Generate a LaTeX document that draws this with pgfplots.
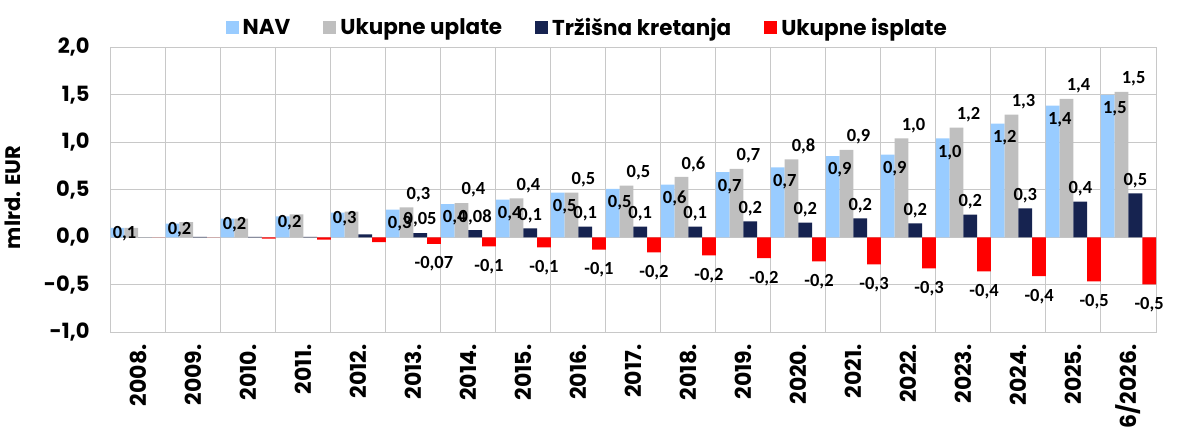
\documentclass[border=0pt]{standalone}
\usepackage{pgfplots}
\usepackage{pgfplotstable}
\pgfplotsset{compat=1.18}
\usepackage{fontspec}
\setmainfont{Poppins}
\newfontfamily\carl{Carlito}
\definecolor{navblue}{RGB}{153,204,255}
\definecolor{upgray}{RGB}{191,191,191}
\definecolor{trznavy}{RGB}{22,35,80}
\definecolor{isred}{RGB}{255,0,0}
\definecolor{gridgray}{RGB}{200,200,200}
\pgfplotstableread{
x nav navl gray grayl trz trzl isp ispl
0 0.100 0,1 0.100 {} 0.000 {} 0.000 {}
1 0.145 0,2 0.160 {} 0.005 {} 0.000 {}
2 0.197 0,2 0.197 {} 0.005 {} -0.014 {}
3 0.220 0,2 0.240 {} 0.005 {} -0.024 {}
4 0.260 0,3 0.270 {} 0.030 {} -0.050 {}
5 0.290 0,3 0.315 0,3 0.045 0,05 -0.070 -0,07
6 0.350 0,4 0.360 0,4 0.075 0,08 -0.095 -0,1
7 0.397 0,4 0.410 0,4 0.095 0,1 -0.105 -0,1
8 0.470 0,5 0.470 0,5 0.112 0,1 -0.130 -0,1
9 0.510 0,5 0.545 0,5 0.112 0,1 -0.160 -0,2
10 0.555 0,6 0.635 0,6 0.112 0,1 -0.190 -0,2
11 0.685 0,7 0.720 0,7 0.168 0,2 -0.220 -0,2
12 0.735 0,7 0.820 0,8 0.155 0,2 -0.253 -0,2
13 0.855 0,9 0.920 0,9 0.200 0,2 -0.285 -0,3
14 0.870 0,9 1.040 1,0 0.147 0,2 -0.326 -0,3
15 1.040 1,0 1.155 1,2 0.239 0,2 -0.358 -0,4
16 1.197 1,2 1.290 1,3 0.305 0,3 -0.410 -0,4
17 1.385 1,4 1.456 1,4 0.376 0,4 -0.463 -0,5
18 1.500 1,5 1.530 1,5 0.463 0,5 -0.495 -0,5
}\datatable
\begin{document}
\begin{tikzpicture}
\useasboundingbox (-110.7pt,-102.7pt) rectangle (1067.3pt,332.3pt);
\begin{axis}[
  at={(0pt,0pt)}, anchor=south west,
  scale only axis, width=1045.3pt, height=285pt,
  xmin=-0.5, xmax=18.5, ymin=-1, ymax=2,
  ytick={-1,-0.5,0,0.5,1,1.5,2},
  xtick={0,...,18},
  xticklabels={2008.,2009.,2010.,2011.,2012.,2013.,2014.,2015.,2016.,2017.,2018.,2019.,2020.,2021.,2022.,2023.,2024.,2025.,6/2026.},
  minor xtick={0.5,1.5,...,17.5},
  xminorgrids=true, xmajorgrids=false, ymajorgrids=true,
  grid style={draw=gridgray, line width=1pt},
  minor grid style={draw=gridgray, line width=1pt},
  axis line style={draw=gridgray, line width=1pt},
  major tick length=0pt, minor tick length=0pt,
  xticklabel style={rotate=90, anchor=east, inner sep=0pt, font=\bfseries\fontsize{22}{22}\selectfont},
  xticklabel shift=12pt,
  yticklabel style={anchor=east, inner sep=0pt, xshift=-21pt, font=\bfseries\fontsize{21}{21}\selectfont,
    /pgf/number format/use comma, /pgf/number format/fixed, /pgf/number format/fixed zerofill,
    /pgf/number format/precision=1, /pgf/number format/assume math mode=true},
  ylabel={mlrd. EUR},
  ylabel style={at={(axis description cs:-0.0935,0.473)}, anchor=center, inner sep=0pt,
    font=\bfseries\fontsize{21}{21}\selectfont},
  legend style={at={(axis description cs:0.455,1)}, anchor=center, yshift=19.8pt,
    legend columns=-1, draw=none, fill=none, inner sep=0pt, nodes={inner sep=0pt},
    font=\bfseries\fontsize{21.5}{21.5}\selectfont,
    /tikz/every even column/.append style={column sep=33pt}},
  legend image code/.code={\path[#1] (0pt,-6.5pt) rectangle (13pt,6.5pt); \path (17pt,0pt);},
]
\addplot[ybar, bar width=0.25, bar shift=-0.375, fill=navblue, draw=none] table[x=x, y=nav] {\datatable};
\addlegendentry{NAV}
\addplot[ybar, bar width=0.25, bar shift=-0.125, fill=upgray, draw=none] table[x=x, y=gray] {\datatable};
\addlegendentry{Ukupne uplate}
\addplot[ybar, bar width=0.25, bar shift=0.125, fill=trznavy, draw=none] table[x=x, y=trz] {\datatable};
\addlegendentry{Tržišna kretanja}
\addplot[ybar, bar width=0.25, bar shift=0.375, fill=isred, draw=none] table[x=x, y=isp] {\datatable};
\addlegendentry{Ukupne isplate}
% data labels drawn above all bars
\addplot[draw=none, mark=none, forget plot, nodes near coords, point meta=explicit symbolic,
  restrict x to domain=-1:4.5,
  every node near coord/.style={anchor=center, inner sep=0pt, xshift=7pt, yshift=-6pt, font=\carl\bfseries\fontsize{18.5}{18.5}\selectfont}]
  table[x expr=\thisrow{x}-0.375, y=nav, meta=navl] {\datatable};
\addplot[draw=none, mark=none, forget plot, nodes near coords, point meta=explicit symbolic,
  restrict x to domain=4.5:19,
  every node near coord/.style={anchor=center, inner sep=0pt, xshift=7pt, yshift=-14pt, font=\carl\bfseries\fontsize{18.5}{18.5}\selectfont}]
  table[x expr=\thisrow{x}-0.375, y=nav, meta=navl] {\datatable};
\addplot[draw=none, mark=none, forget plot, nodes near coords, point meta=explicit symbolic,
  every node near coord/.style={anchor=center, inner sep=0pt, xshift=12pt, yshift=13pt, font=\carl\bfseries\fontsize{18.5}{18.5}\selectfont}]
  table[x expr=\thisrow{x}-0.125, y=gray, meta=grayl] {\datatable};
\addplot[draw=none, mark=none, forget plot, nodes near coords, point meta=explicit symbolic,
  every node near coord/.style={anchor=center, inner sep=0pt, xshift=0pt, yshift=13pt, font=\carl\bfseries\fontsize{18.5}{18.5}\selectfont}]
  table[x expr=\thisrow{x}+0.125, y=trz, meta=trzl] {\datatable};
\addplot[draw=none, mark=none, forget plot, nodes near coords, point meta=explicit symbolic,
  every node near coord/.style={anchor=center, inner sep=0pt, xshift=0pt, yshift=-20pt, font=\carl\bfseries\fontsize{18.5}{18.5}\selectfont}]
  table[x expr=\thisrow{x}+0.375, y=isp, meta=ispl] {\datatable};
\end{axis}
\end{tikzpicture}
\end{document}
